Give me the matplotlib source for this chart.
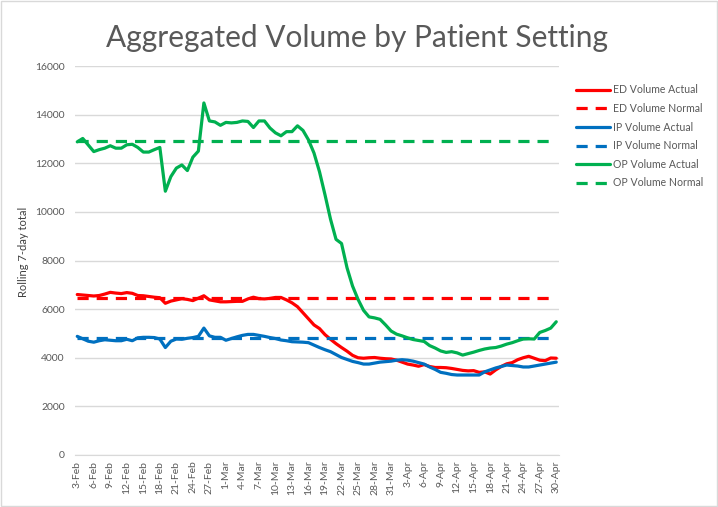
import matplotlib
matplotlib.use("Agg")
import matplotlib.pyplot as plt
import numpy as np
import pandas as pd
from matplotlib.patches import Rectangle

dates = pd.date_range("2020-02-03", "2020-04-30", freq="D")
date_labels = [f"{d.day}-{d.strftime('%b')}" for d in dates]

ed_actual = [6600, 6580, 6560, 6540, 6560, 6620, 6690, 6660, 6640, 6680,
             6650, 6560, 6550, 6520, 6490, 6470, 6240, 6330, 6380, 6430,
             6400, 6350, 6450, 6550, 6380, 6340, 6300, 6300, 6310, 6320,
             6320, 6420, 6490, 6430, 6420, 6440, 6480, 6480, 6380, 6260,
             6100, 5850, 5600, 5350, 5200, 4950, 4760, 4580, 4420, 4270,
             4100, 4000, 3980, 4000, 4010, 3980, 3960, 3950, 3900, 3820,
             3740, 3700, 3650, 3720, 3640, 3600, 3600, 3590, 3560, 3520,
             3480, 3460, 3470, 3400, 3420, 3330, 3500, 3640, 3750, 3800,
             3920, 4000, 4060, 3980, 3900, 3880, 3990, 3980]
ip_actual = [4880, 4780, 4680, 4640, 4700, 4740, 4720, 4700, 4700, 4760,
             4700, 4820, 4840, 4840, 4830, 4770, 4420, 4680, 4770, 4760,
             4800, 4830, 4880, 5220, 4900, 4840, 4840, 4720, 4790, 4860,
             4920, 4960, 4960, 4920, 4880, 4830, 4790, 4730, 4700, 4660,
             4650, 4640, 4620, 4520, 4420, 4330, 4250, 4130, 4010, 3930,
             3850, 3800, 3740, 3740, 3780, 3820, 3840, 3860, 3900, 3920,
             3900, 3860, 3800, 3740, 3620, 3520, 3400, 3360, 3310, 3290,
             3290, 3290, 3290, 3290, 3420, 3500, 3580, 3640, 3700, 3680,
             3660, 3620, 3620, 3660, 3700, 3740, 3780, 3820]
op_actual = [12880, 13020, 12750, 12480, 12560, 12620, 12720, 12620, 12620, 12760,
             12780, 12650, 12460, 12460, 12560, 12650, 10850, 11450, 11800, 11930,
             11700, 12250, 12500, 14480, 13740, 13700, 13560, 13680, 13660, 13680,
             13740, 13720, 13470, 13740, 13740, 13450, 13250, 13130, 13300, 13300,
             13540, 13350, 12960, 12420, 11650, 10700, 9700, 8870, 8700, 7700,
             6950, 6400, 5950, 5680, 5640, 5580, 5350, 5100, 4970, 4900,
             4820, 4750, 4710, 4670, 4500, 4400, 4280, 4220, 4250, 4200,
             4110, 4170, 4230, 4300, 4360, 4400, 4420, 4480, 4560, 4620,
             4700, 4770, 4780, 4770, 5040, 5120, 5220, 5480]
ed_normal = 6450
ip_normal = 4800
op_normal = 12900

series = [
    ("ED Volume Actual", ed_actual, "#FF0000", "-"),
    ("ED Volume Normal", [ed_normal] * len(dates), "#FF0000", "--"),
    ("IP Volume Actual", ip_actual, "#0070C0", "-"),
    ("IP Volume Normal", [ip_normal] * len(dates), "#0070C0", "--"),
    ("OP Volume Actual", op_actual, "#00B050", "-"),
    ("OP Volume Normal", [op_normal] * len(dates), "#00B050", "--"),
]

plt.rcParams["font.family"] = ["Lato", "DejaVu Sans"]
fig = plt.figure(figsize=(7.18, 5.07), dpi=100)
ax = fig.add_axes([74.5 / 718, 52 / 507, 484.5 / 718, 389 / 507])

x = np.arange(len(dates))
for name, vals, color, ls in series:
    kw = dict(color=color, lw=2.3, label=name, solid_capstyle="round")
    if ls == "--":
        ax.plot(x, vals, dashes=(3.5, 2.5), **kw)
    else:
        ax.plot(x, vals, **kw)

ax.set_ylim(0, 16000)
ax.set_yticks(np.arange(0, 16001, 2000))
ax.set_xlim(-0.5, 87.5)
ax.set_xticks(x[::3])
ax.set_xticklabels(date_labels[::3], rotation=90)
ax.tick_params(axis="both", length=0, labelsize=7.5, colors="#595959")
ax.tick_params(axis="y", pad=7)
ax.tick_params(axis="x", pad=4)
ax.grid(axis="y", color="#D9D9D9", lw=1)
ax.set_axisbelow(True)
for s in ["top", "right", "left"]:
    ax.spines[s].set_visible(False)
ax.spines["bottom"].set_color("#D9D9D9")

fig.text(24 / 718, 1 - 252 / 507, "Rolling 7-day total", rotation=90,
         ha="center", va="center", fontsize=8, color="#404040")
fig.text(0.497, 0.925, "Aggregated Volume by Patient Setting", ha="center",
         va="center", fontsize=21.5, color="#595959")

leg = fig.legend(loc="upper left", bbox_to_anchor=(566 / 718, 1 - 75 / 507),
                 frameon=False, fontsize=7.6, handlelength=3.3, handletextpad=0.25,
                 labelspacing=0.72, labelcolor="#595959")

fig.patches.append(Rectangle((0.001, 0.001), 0.997, 0.997, transform=fig.transFigure,
                             fill=False, edgecolor="#D9D9D9", lw=1))

fig.savefig("out.png", dpi=100)
